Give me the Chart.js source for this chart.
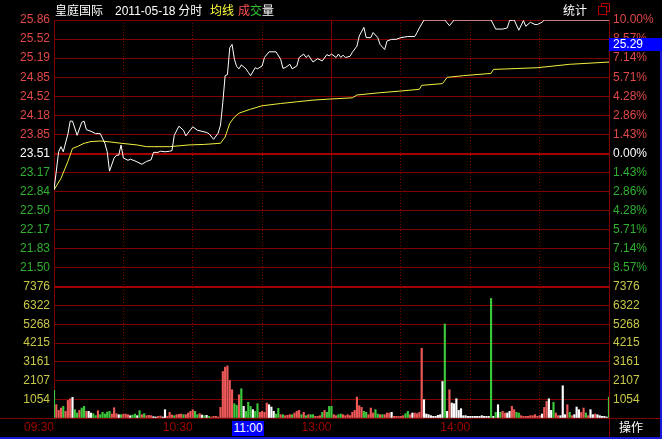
<!DOCTYPE html>
<html>
<head>
<meta charset="utf-8">
<script src="https://cdn.jsdelivr.net/npm/chart.js@4.4.1/dist/chart.umd.min.js"></script>
<style>
  html, body { margin: 0; padding: 0; background: #000; width: 662px; height: 439px; overflow: hidden; }
  #wrap { position: relative; width: 662px; height: 439px; }
  canvas { position: absolute; left: 0; }
  .t { position: absolute; white-space: nowrap; line-height: 14px; font-family: "Noto Sans CJK SC", "Liberation Sans", sans-serif; font-size: 12px; color: #fff; }
  .n { font-family: "Liberation Sans", Arial, sans-serif; }
  .ln { position: absolute; }
</style>
</head>
<body>
<div id="wrap">
  <div class="ln" style="left:0;top:418px;width:662px;height:1px;background:#800000"></div>
  <div class="ln" style="left:609px;top:418px;width:1px;height:21px;background:#800000"></div>
  <canvas id="priceChart" width="662" height="300" style="top:0"></canvas>
  <canvas id="volChart" width="662" height="159" style="top:280px"></canvas>

  <!-- judul atas -->
  <div class="t" style="left:55px;top:3px">皇庭国际</div>
  <div class="t" style="left:115px;top:3px"><span class="n">2011-05-18</span> 分时</div>
  <div class="t" style="left:210px;top:3px;color:#ffff40">均线</div>
  <div class="t" style="left:238px;top:3px"><span style="color:#ff5050">成</span><span style="color:#30c030">交</span>量</div>
  <div class="t" style="left:563px;top:3px">统计</div>
  <div class="ln" style="left:601px;top:3px;width:7px;height:7px;border:1px solid #b00000"></div>
  <div class="ln" style="left:598px;top:6px;width:7px;height:7px;border:1px solid #b00000;background:#000"></div>

  <!-- kursor harga & waktu -->
  <div class="t n" style="left:609px;top:38px;width:53px;height:13px;line-height:13px;background:#0000ff;padding-left:4px;box-sizing:border-box">25.29</div>
  <div class="t n" style="left:232px;top:421px;width:32px;height:15px;line-height:15px;background:#0000ff;text-align:center">11:00</div>
  <div class="t" style="left:619px;top:420px">操作</div>

  <div class="ln" style="left:0;top:437px;width:662px;height:2px;background:#1818d8"></div>
  <div class="ln" style="left:660px;top:51px;width:2px;height:388px;background:#1818d8"></div>
</div>

<script>
// Harga penutupan kemarin 23.51, batas ±10%
const PREV_CLOSE = 23.51;
const PRICE_MIN = 21.16;
const PRICE_MAX = 25.86;
const VOL_MAX = 7376;

const PRICE_LABELS = ['', '21.50', '21.83', '22.17', '22.50', '22.84', '23.17', '23.51', '23.85', '24.18', '24.52', '24.85', '25.19', '25.52', '25.86'];
const PCT_LABELS = ['', '8.57%', '7.14%', '5.71%', '4.28%', '2.86%', '1.43%', '0.00%', '1.43%', '2.86%', '4.28%', '5.71%', '7.14%', '8.57%', '10.00%'];
const VOL_LABELS = ['', '1054', '2107', '3161', '4215', '5268', '6322', '7376'];
const TIME_TICKS = [0, 30, 60, 90, 120, 150, 180, 210, 240];
const TIME_LABELS = ['09:30', '', '10:30', '', '13:00', '', '14:00', '', ''];
const SOLID_TIME = [0, 120, 240];

// [menit, harga]
const pricePoints = [[0,22.87],[2,23.54],[3,23.63],[4,23.54],[6,23.85],[7,24.08],[8,24.08],[10,23.83],[12,24.06],[13,24.08],
  [14,23.93],[16,23.90],[18,23.86],[20,23.86],[22,23.69],[23,23.54],[24,23.20],[26,23.43],[27,23.48],[28,23.48],
  [29,23.66],[30,23.43],[32,23.39],[33,23.41],[35,23.38],[38,23.32],[40,23.37],[42,23.40],[43,23.53],[45,23.53],
  [46,23.55],[48,23.54],[50,23.55],[51,23.56],[52,23.83],[54,23.99],[56,23.92],[57,23.82],[60,23.98],[62,23.92],
  [64,23.90],[66,23.88],[67,23.86],[69,23.76],[71,23.87],[72,24.01],[73,24.41],[74,24.88],[75,24.90],[76,25.37],
  [77,25.43],[78,25.17],[79,25.04],[80,25.00],[81,25.07],[83,25.00],[84,24.94],[85,24.88],[87,25.02],[88,25.00],
  [90,25.05],[91,25.20],[93,25.30],[96,25.30],[98,25.17],[99,25.01],[100,25.02],[102,25.08],[103,25.00],[105,25.05],
  [106,25.20],[108,25.26],[109,25.20],[110,25.24],[112,25.12],[114,25.18],[116,25.14],[118,25.25],[119,25.23],[120,25.26],
  [122,25.20],[123,25.26],[124,25.20],[125,25.24],[126,25.20],[128,25.22],[129,25.29],[131,25.40],[132,25.58],[134,25.73],
  [135,25.55],[137,25.55],[138,25.64],[140,25.55],[141,25.43],[143,25.34],[144,25.49],[146,25.52],[148,25.52],[150,25.55],
  [153,25.57],[156,25.57],[157,25.64],[158,25.72],[160,25.86],[169,25.86],[171,25.76],[173,25.86],[189,25.86],[191,25.70],
  [194,25.70],[196,25.72],[197,25.85],[199,25.86],[201,25.68],[203,25.85],[204,25.75],[206,25.82],[208,25.78],[209,25.78],
  [211,25.82],[212,25.86],[240,25.86]];

// [menit, harga rata-rata]
const avgPoints = [[0,22.87],[3,23.07],[6,23.37],[8,23.60],[10,23.63],[13,23.69],[16,23.72],[20,23.73],[23,23.72],[29,23.69],
  [36,23.66],[40,23.63],[50,23.63],[58,23.66],[65,23.67],[72,23.69],[74,23.80],[76,24.04],[78,24.15],[80,24.22],
  [85,24.29],[90,24.35],[98,24.39],[105,24.42],[112,24.45],[120,24.47],[129,24.49],[131,24.54],[141,24.58],[150,24.61],
  [158,24.64],[159,24.71],[168,24.74],[170,24.85],[177,24.88],[189,24.92],[190,24.99],[209,25.02],[223,25.08],[240,25.12]];

// volume per menit (09:30 .. 15:00)
const volume = [
  1554, 749, 430, 562, 655, 374, 992, 1086, 1161, 468,
  281, 430, 562, 655, 374, 374, 281, 243, 131, 412,
  187, 318, 225, 337, 374, 225, 580, 243, 187, 187,
  206, 225, 187, 131, 168, 225, 131, 412, 187, 243,
  131, 150, 131, 75, 56, 94, 112, 56, 468, 94,
  318, 168, 131, 187, 206, 225, 187, 187, 281, 374,
  468, 374, 187, 243, 168, 131, 150, 94, 56, 94,
  94, 56, 599, 2618, 2861, 2936, 2113, 1590, 804, 711,
  1309, 1646, 655, 374, 879, 655, 468, 374, 804, 318,
  374, 318, 842, 748, 617, 374, 225, 542, 187, 187,
  131, 150, 187, 187, 281, 374, 430, 187, 318, 131,
  187, 187, 187, 94, 94, 131, 318, 430, 318, 655,
  655, 187, 131, 187, 225, 187, 131, 187, 131, 318,
  430, 1178, 692, 599, 374, 318, 187, 561, 281, 468,
  225, 187, 187, 187, 281, 281, 318, 94, 94, 94,
  94, 131, 243, 374, 187, 281, 281, 243, 318, 3927,
  1029, 225, 187, 131, 94, 94, 150, 187, 2057, 5292,
  374, 1590, 842, 804, 1085, 430, 524, 131, 131, 94,
  94, 94, 94, 94, 94, 131, 94, 94, 94, 6732,
  94, 318, 748, 318, 374, 281, 281, 374, 655, 468,
  318, 281, 131, 94, 94, 94, 131, 131, 187, 94,
  131, 225, 599, 935, 1085, 430, 879, 281, 131, 131,
  1814, 187, 748, 318, 131, 187, 617, 468, 318, 561,
  281, 131, 468, 187, 225, 187, 131, 94, 94, 56, 1178
];
// r = naik, g = turun, w = tetap
const volColor =
  'grrrgrrrwg' + 'grggrwwggr' + 'gggggrrrwg' + 'rrrwggwgrg' + 'rrrwwrrwwr' +
  'rrgrrrgrrr' + 'rggrwgwgrr' + 'rrrrrrrrgg' + 'rgwgggwggr' + 'rrrwwwggrg' +
  'rrrgrrrgrg' + 'rggrrrgrgg' + 'grrggrrrrr' + 'rrrrggrrrg' + 'grgrrrwrrr' +
  'rrggrwrrrr' + 'wwwwwwwwwg' + 'wrwwwwwwww' + 'wwwwwwwwwg' + 'wgwgrrwwrr' +
  'ggrrrrrrrr' + 'rwrrwwgrrw' + 'wwrgrwwwrr' + 'grwwrwwwwwg';

const GRID = '#800000';
const RED = '#e04848';
const GREEN = '#30b030';
const YELLOW = '#c8c848';
const BAR_COLORS = { r: '#ee5858', g: '#3cc83c', w: '#ffffff' };

Chart.defaults.font.family = '"Liberation Sans", Arial, sans-serif';
Chart.defaults.font.size = 12;

const baseOpts = {
  responsive: false, animation: false, devicePixelRatio: 1,
  plugins: { legend: { display: false }, tooltip: { enabled: false } }
};

// lebar sumbu tetap supaya area grafik 54..609
const fixY = w => s => { s.width = w; s.paddingTop = 0; s.paddingBottom = 0; };

const timeAxis = (showLabels) => ({
  type: 'linear', min: 0, max: 240, offset: false,
  afterBuildTicks: s => { s.ticks = TIME_TICKS.map(v => ({ value: v })); },
  afterFit: s => { s.height = showLabels ? 21 : 0; },
  ticks: { display: showLabels, autoSkip: false, maxRotation: 0, align: 'end', padding: 2, color: '#a00000',
    callback: (v, i) => TIME_LABELS[i] },
  grid: { color: GRID, drawTicks: false, offset: false },
  border: { display: showLabels, color: GRID,
    dash: c => (c.tick && SOLID_TIME.includes(c.tick.value)) ? [] : [1, 2] }
});

const priceStep = (PRICE_MAX - PRICE_MIN) / 14;
const priceTicks = s => { s.ticks = PRICE_LABELS.map((_, i) => ({ value: PRICE_MIN + i * priceStep })); };
const labelColor = c => c.index === 7 ? '#ffffff' : (c.index > 7 ? RED : GREEN);

new Chart(document.getElementById('priceChart'), {
  type: 'line',
  data: {
    datasets: [
      { data: pricePoints.map(p => ({ x: p[0], y: p[1] })), borderColor: '#ffffff', borderWidth: 1, pointRadius: 0, tension: 0 },
      { data: avgPoints.map(p => ({ x: p[0], y: p[1] })), borderColor: '#f0f040', borderWidth: 1, pointRadius: 0, tension: 0 }
    ]
  },
  options: {
    ...baseOpts,
    layout: { padding: { top: 20, bottom: 13, left: 0, right: 0 } },
    scales: {
      x: timeAxis(false),
      y: {
        position: 'left', min: PRICE_MIN, max: PRICE_MAX,
        afterBuildTicks: priceTicks, afterFit: fixY(54),
        ticks: { autoSkip: false, padding: 4, color: labelColor, callback: (v, i) => PRICE_LABELS[i] },
        grid: { color: c => (c.index === 7 || c.index === 0) ? '#a00000' : GRID,
                lineWidth: c => (c.index === 7 || c.index === 0) ? 2 : 1, drawTicks: false },
        border: { color: GRID }
      },
      yr: {
        position: 'right', min: PRICE_MIN, max: PRICE_MAX,
        afterBuildTicks: priceTicks, afterFit: fixY(53),
        ticks: { autoSkip: false, padding: 4, color: labelColor, callback: (v, i) => PCT_LABELS[i] },
        grid: { drawOnChartArea: false, drawTicks: false },
        border: { color: GRID }
      }
    }
  }
});

const volTicks = s => { s.ticks = VOL_LABELS.map((_, i) => ({ value: i * VOL_MAX / 7 })); };

new Chart(document.getElementById('volChart'), {
  type: 'bar',
  data: {
    datasets: [{
      data: volume.map((v, i) => ({ x: i, y: v })),
      backgroundColor: volColor.split('').map(c => BAR_COLORS[c]),
      barThickness: 1.5, borderWidth: 0
    }]
  },
  options: {
    ...baseOpts,
    layout: { padding: { top: 7, bottom: 0, left: 0, right: 0 } },
    scales: {
      x: timeAxis(true),
      y: {
        position: 'left', min: 0, max: VOL_MAX,
        afterBuildTicks: volTicks, afterFit: fixY(54),
        ticks: { autoSkip: false, padding: 4, color: YELLOW, callback: (v, i) => VOL_LABELS[i] },
        grid: { color: c => c.index === 7 ? '#a00000' : GRID, lineWidth: c => c.index === 7 ? 2 : 1, drawTicks: false },
        border: { color: GRID }
      },
      yr: {
        position: 'right', min: 0, max: VOL_MAX,
        afterBuildTicks: volTicks, afterFit: fixY(53),
        ticks: { autoSkip: false, padding: 4, color: YELLOW, callback: (v, i) => VOL_LABELS[i] },
        grid: { drawOnChartArea: false, drawTicks: false },
        border: { color: GRID }
      }
    }
  }
});
</script>
</body>
</html>
